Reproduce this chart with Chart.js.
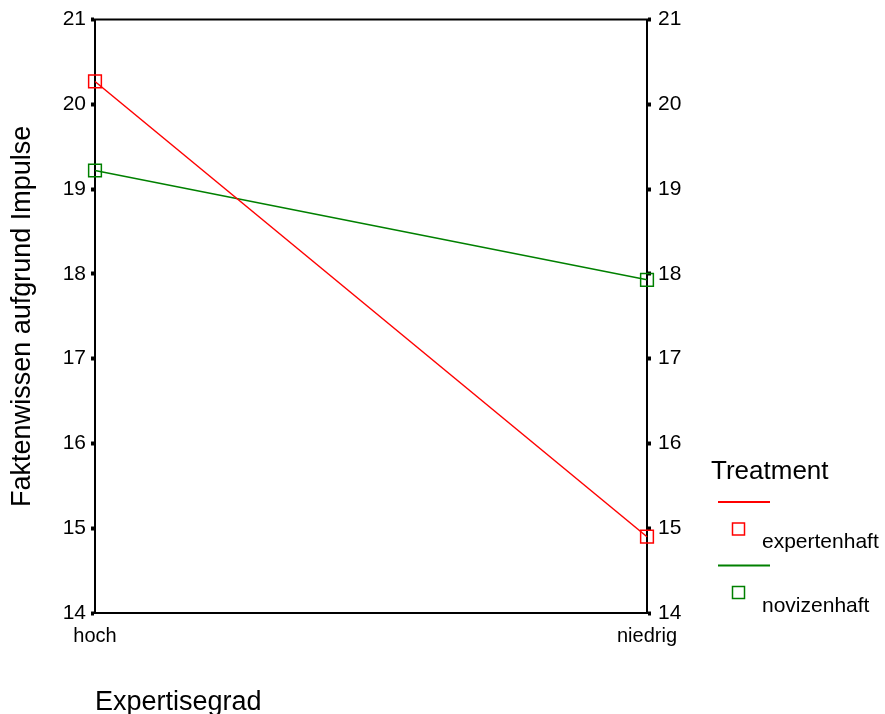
<!DOCTYPE html>
<html>
<head>
<meta charset="utf-8">
<script src="https://cdn.jsdelivr.net/npm/chart.js@4/dist/chart.umd.min.js"></script>
<style>
  html, body { margin: 0; padding: 0; background: #fff; }
</style>
</head>
<body>
<canvas id="myChart" width="885" height="714"></canvas>
<script>
const categories = ["hoch", "niedrig"];
const expertenhaft = [20.27, 14.9];
const novizenhaft = [19.22, 17.93];
const yMin = 14;
const yMax = 21;
const legendTitle = "Treatment";

const FONT = '"Liberation Sans", Arial, sans-serif';

// top line of the frame + SPSS style legend on the right
const framePlugin = {
  id: "frame",
  afterDraw(chart) {
    const { ctx, chartArea } = chart;
    ctx.save();
    ctx.strokeStyle = "#000";
    ctx.lineWidth = 2;
    ctx.beginPath();
    ctx.moveTo(chartArea.left - 1, chartArea.top);
    ctx.lineTo(chartArea.right + 1, chartArea.top);
    ctx.stroke();

    ctx.fillStyle = "#000";
    ctx.textBaseline = "alphabetic";
    ctx.font = "26px " + FONT;
    ctx.fillText(legendTitle, 711, 479);

    chart.data.datasets.forEach((ds, i) => {
      const y0 = 502 + i * 63.5;
      ctx.strokeStyle = ds.borderColor;
      ctx.lineWidth = 2;
      ctx.beginPath();
      ctx.moveTo(718, y0);
      ctx.lineTo(770, y0);
      ctx.stroke();
      ctx.lineWidth = 1.5;
      ctx.strokeRect(732.5, y0 + 21, 12, 12);
      ctx.fillStyle = "#000";
      ctx.font = "21px " + FONT;
      ctx.fillText(ds.label, 762, y0 + 46);
    });
    ctx.restore();
  },
};

const ctx = document.getElementById("myChart");
Chart.defaults.font.family = FONT;
Chart.defaults.color = "#000";

new Chart(ctx, {
  type: "line",
  data: {
    labels: categories,
    datasets: [
      {
        label: "expertenhaft",
        data: expertenhaft,
        borderColor: "rgb(255, 0, 0)",
        borderWidth: 1.5,
        pointStyle: "rect",
        pointRadius: 9,
        pointBorderWidth: 1.5,
        pointBackgroundColor: "rgba(0,0,0,0)",
        yAxisID: "y",
      },
      {
        label: "novizenhaft",
        data: novizenhaft,
        borderColor: "rgb(0, 128, 0)",
        borderWidth: 1.5,
        pointStyle: "rect",
        pointRadius: 9,
        pointBorderWidth: 1.5,
        pointBackgroundColor: "rgba(0,0,0,0)",
        yAxisID: "y",
      },
    ],
  },
  options: {
    responsive: false,
    animation: false,
    devicePixelRatio: 1,
    layout: {
      padding: { left: 0, top: 19, right: 178, bottom: 0 },
    },
    plugins: {
      legend: { display: false },
      tooltip: { enabled: false },
    },
    scales: {
      x: {
        type: "category",
        offset: false,
        grid: { display: false, drawTicks: false },
        border: { display: true, color: "#000", width: 2 },
        ticks: { font: { size: 20 }, padding: 11, maxRotation: 0 },
        title: {
          display: true,
          text: "Expertisegrad",
          align: "start",
          font: { size: 27, lineHeight: 0.85 },
          padding: { top: 0, bottom: 0 },
        },
        afterFit(scale) {
          scale.height = 101;
        },
      },
      y: {
        position: "left",
        min: yMin,
        max: yMax,
        ticks: { stepSize: 1, font: { size: 21 }, padding: 5 },
        grid: {
          drawOnChartArea: false,
          tickLength: 4,
          tickWidth: 4,
          tickColor: "#000",
        },
        border: { display: true, color: "#000", width: 2 },
        title: {
          display: true,
          text: "Faktenwissen aufgrund Impulse",
          font: { size: 27 },
          padding: { top: 6, bottom: 0 },
        },
        afterFit(scale) {
          scale.width = 95;
        },
      },
      y2: {
        display: true,
        position: "right",
        min: yMin,
        max: yMax,
        ticks: { stepSize: 1, font: { size: 21 }, padding: 7 },
        grid: {
          drawOnChartArea: false,
          tickLength: 4,
          tickWidth: 4,
          tickColor: "#000",
        },
        border: { display: true, color: "#000", width: 2 },
        afterFit(scale) {
          scale.width = 60;
        },
      },
    },
  },
  plugins: [framePlugin],
});
</script>
</body>
</html>
